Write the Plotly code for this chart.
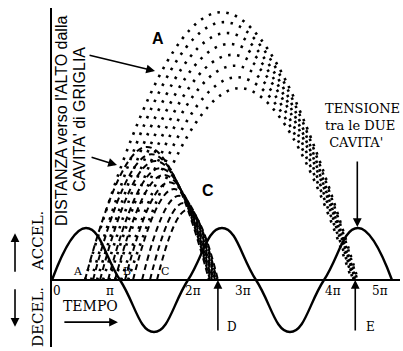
import plotly.graph_objects as go

# x in multiples of pi (time), y in multiples of the cavity-voltage amplitude
sine_x = [0, 0.5, 1, 1.5, 2, 2.5, 3, 3.5, 4, 4.5, 5]
sine_y = [0, 1, 0, -1, 0, 1, 0, -1, 0, 1, 0]

# dotted trajectories (group A, returning at E)
dot_start = [0.485, 0.574, 0.662, 0.750, 0.838, 0.926, 1.015, 1.118]
dot_peak_x = [2.49, 2.53, 2.57, 2.61, 2.65, 2.68, 2.72, 2.76]
dot_peak_y = [5.15, 4.96, 4.75, 4.54, 4.33, 4.12, 3.90, 3.69]
dot_end = [4.50, 4.49, 4.47, 4.46, 4.46, 4.44, 4.43, 4.41]

# dashed trajectories (group B-C, returning at D)
dash_start = [0.485, 0.603, 0.706, 0.824, 0.926, 1.074, 1.191, 1.324, 1.441, 1.544]
dash_peak_x = [1.397, 1.464, 1.522, 1.589, 1.647, 1.728, 1.794, 1.868, 1.934, 1.993]
dash_peak_y = [2.56, 2.42, 2.29, 2.15, 2.02, 1.88, 1.75, 1.62, 1.48, 1.35]
dash_end = [2.309, 2.324, 2.338, 2.353, 2.368, 2.382, 2.397, 2.412, 2.426, 2.441]

tick_pos = [0.07, 0.85, 2.07, 2.81, 4.13, 4.82]
tick_text = ["0", "π", "2π", "3π", "4π", "5π"]

SERIF = "DejaVu Serif"
SANS = "Liberation Sans"

fig = go.Figure()

for x0, xp, yp, x1 in zip(dot_start, dot_peak_x, dot_peak_y, dot_end):
    fig.add_trace(go.Scatter(x=[x0, xp, x1], y=[0, yp, 0], mode="lines",
                             line=dict(color="black", width=2.6, dash="2.5px,6.5px",
                                       shape="spline", smoothing=1.3),
                             hoverinfo="skip", showlegend=False))

for x0, xp, yp, x1 in zip(dash_start, dash_peak_x, dash_peak_y, dash_end):
    fig.add_trace(go.Scatter(x=[x0, xp, x1], y=[0, yp, 0], mode="lines",
                             line=dict(color="black", width=2, dash="6px,4px",
                                       shape="spline", smoothing=1.3),
                             hoverinfo="skip", showlegend=False))

fig.add_trace(go.Scatter(x=sine_x, y=sine_y, mode="lines",
                         line=dict(color="black", width=2.4, shape="spline", smoothing=1.3),
                         hoverinfo="skip", showlegend=False))

ann = []
for p, t in zip(tick_pos, tick_text):
    ann.append(dict(x=p, y=-0.21, text=t, showarrow=False,
                    font=dict(family=SERIF, size=12, color="black")))

for x, t in [(0.38, "A"), (1.10, "B"), (1.66, "C")]:
    ann.append(dict(x=x, y=0.16, text=t, showarrow=False,
                    font=dict(family=SERIF, size=11, color="black")))

ann += [
    dict(x=1.56, y=4.65, text="<b>A</b>", showarrow=False,
         font=dict(family=SANS, size=16, color="black")),
    dict(x=2.29, y=1.73, text="<b>C</b>", showarrow=False,
         font=dict(family=SANS, size=16, color="black")),
    dict(x=0.57, y=-0.5, text="TEMPO", showarrow=False,
         font=dict(family=SERIF, size=14, color="black")),
    dict(x=3.99, y=2.98, xanchor="left", align="left",
         text="TENSIONE<br>tra le DUE<br>&nbsp;CAVITA'", showarrow=False,
         font=dict(family=SERIF, size=13, color="black")),
    dict(x=2.65, y=-0.9, text="D", showarrow=False,
         font=dict(family=SERIF, size=12, color="black")),
    dict(x=4.68, y=-0.9, text="E", showarrow=False,
         font=dict(family=SERIF, size=12, color="black")),
    dict(x=0.147, y=3.06, text="DISTANZA verso l'ALTO dalla", textangle=-90, showarrow=False,
         font=dict(family=SANS, size=16, color="black")),
    dict(x=0.41, y=3.10, text="CAVITA' di GRIGLIA", textangle=-90, showarrow=False,
         font=dict(family=SANS, size=16, color="black")),
    dict(x=-0.040, xref="paper", xanchor="center", y=0.75, text="ACCEL.", textangle=-90,
         showarrow=False, font=dict(family=SERIF, size=15, color="black")),
    dict(x=-0.040, xref="paper", xanchor="center", y=-0.71, text="DECEL.", textangle=-90,
         showarrow=False, font=dict(family=SERIF, size=15, color="black")),
]

arrow_style = dict(text="", showarrow=True, arrowhead=2, arrowsize=1.1,
                   arrowwidth=1.6, arrowcolor="black", standoff=0)
ann += [
    dict(x=1.515, y=4.02, ax=0.53, ay=4.33, axref="x", ayref="y", **arrow_style),
    dict(x=0.956, y=2.21, ax=0.56, ay=2.37, axref="x", ayref="y", **arrow_style),
    dict(x=0.97, y=-0.81, ax=0.16, ay=-0.81, axref="x", ayref="y", **arrow_style),
    dict(x=4.49, y=1.02, ax=4.49, ay=2.31, axref="x", ayref="y", **arrow_style),
    dict(x=2.44, y=0, ax=2.44, ay=-1.0, axref="x", ayref="y", **arrow_style),
    dict(x=4.46, y=0, ax=4.46, ay=-1.0, axref="x", ayref="y", **arrow_style),
    dict(x=-0.1063, xref="paper", y=0.90, ax=0, ay=40, **arrow_style),
    dict(x=-0.1063, xref="paper", y=-0.90, ax=0, ay=-39, **arrow_style),
]

fig.update_layout(
    width=403, height=351,
    margin=dict(l=52, r=3, t=8, b=4),
    paper_bgcolor="white", plot_bgcolor="white",
    showlegend=False,
    annotations=ann,
    xaxis=dict(range=[0, 5.118], showgrid=False, zeroline=False, showticklabels=False,
               ticks="", showline=False, fixedrange=True),
    yaxis=dict(range=[-1.288, 5.231], showgrid=False, showticklabels=False, ticks="",
               zeroline=True, zerolinecolor="black", zerolinewidth=2,
               showline=True, linecolor="black", linewidth=2, fixedrange=True),
)

fig.write_html("out.html", config={"staticPlot": True},
               post_script="document.body.style.margin='0px';document.body.style.overflow='hidden';")
